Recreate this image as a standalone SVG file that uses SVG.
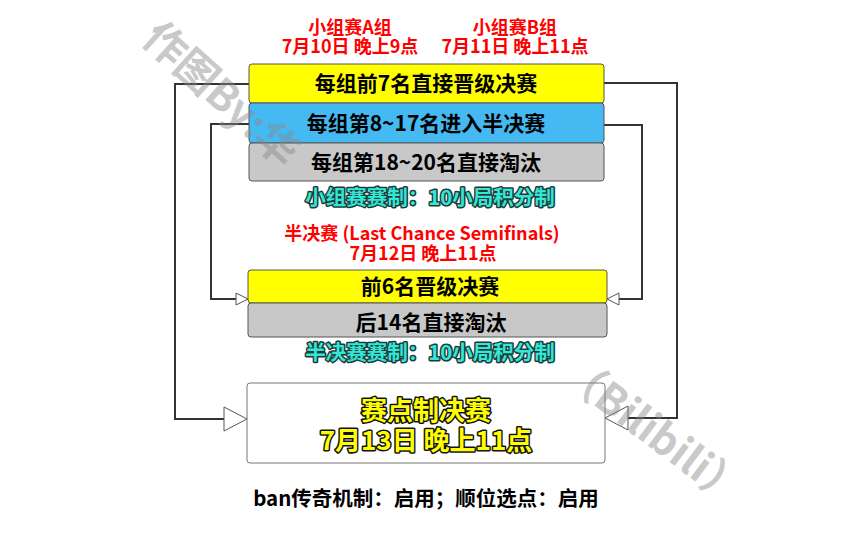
<svg xmlns="http://www.w3.org/2000/svg" width="854" height="540" viewBox="0 0 854 540">
<defs>
<style>
text{font-family:'Noto Sans CJK SC','Noto Sans',sans-serif;font-weight:bold;text-anchor:middle}
.red{fill:#ff0000;font-size:18px}
.box{stroke:#555;stroke-width:1}
.bt{fill:#000;font-size:21px}
.cyan{fill:#33e6d6;stroke:#1d3a3a;stroke-width:3;paint-order:stroke;stroke-linejoin:round;font-size:20.5px}
.fin{fill:#ffff00;stroke:#111;stroke-width:3;paint-order:stroke;stroke-linejoin:round;font-size:26px}
.line{fill:none;stroke:#333;stroke-width:2}
.arrow{fill:#fff;stroke:#555;stroke-width:1}
.wm{fill:#8a8a8a;opacity:0.45;font-size:42px;text-anchor:start}
</style>
</defs>
<rect width="854" height="540" fill="#fff"/>

<g id="connectors">
<polyline class="line" points="249,84 175,84 175,419 224,419"/>
<polygon class="arrow" points="224,407 247,419 224,431"/>
<polyline class="line" points="249,124 211,124 211,299 236,299"/>
<polygon class="arrow" points="236,293 248,299 236,305"/>
<polyline class="line" points="604,83 677,83 677,418 628,418"/>
<polygon class="arrow" points="628,406 605,418 628,430"/>
<polyline class="line" points="604,125 642,125 642,299 619,299"/>
<polygon class="arrow" points="619,293 607,299 619,305"/>
</g>

<g id="group-labels">
<text class="red" x="350" y="34">小组赛A组</text>
<text class="red" x="350" y="53">7月10日 晚上9点</text>
<text class="red" x="515" y="34">小组赛B组</text>
<text class="red" x="515" y="53">7月11日 晚上11点</text>
</g>

<g id="node-top7">
<rect class="box" x="249" y="64" width="355" height="39" rx="3" fill="#ffff00"/>
<text class="bt" x="426" y="91">每组前7名直接晋级决赛</text>
</g>
<g id="node-8-17">
<rect class="box" x="249" y="103" width="355" height="40" rx="3" fill="#45b9f2"/>
<text class="bt" x="426" y="131">每组第8~17名进入半决赛</text>
</g>
<g id="node-18-20">
<rect class="box" x="249" y="143" width="355" height="38" rx="3" fill="#c8c8c8"/>
<text class="bt" x="426" y="170">每组第18~20名直接淘汰</text>
</g>
<text class="cyan" x="430" y="205">小组赛赛制：10小局积分制</text>

<g id="semi-labels">
<text class="red" x="422" y="240" font-size="18.5">半决赛 (Last Chance Semifinals)</text>
<text class="red" x="423" y="260">7月12日 晚上11点</text>
</g>

<g id="node-semi-top6">
<rect class="box" x="248" y="270" width="359" height="33" rx="3" fill="#ffff00"/>
<text class="bt" x="430" y="294">前6名晋级决赛</text>
</g>
<g id="node-semi-out">
<rect class="box" x="248" y="303" width="359" height="34" rx="3" fill="#c8c8c8"/>
<text class="bt" x="431" y="330">后14名直接淘汰</text>
</g>
<text class="cyan" x="430" y="360">半决赛赛制：10小局积分制</text>

<g id="node-final">
<rect x="247" y="383" width="358" height="80" rx="3" fill="#fff" stroke="#777" stroke-width="1"/>
<text class="fin" x="426" y="420">赛点制决赛</text>
<text class="fin" x="426" y="450">7月13日 晚上11点</text>
</g>

<text x="426" y="506" font-size="20.5" fill="#000">ban传奇机制：启用；顺位选点：启用</text>

<g id="watermark">
<text class="wm" transform="translate(140,41) rotate(42)">作图By:华</text>
<text class="wm" transform="translate(558,378) rotate(37)">（Bilibili）</text>
</g>
</svg>
